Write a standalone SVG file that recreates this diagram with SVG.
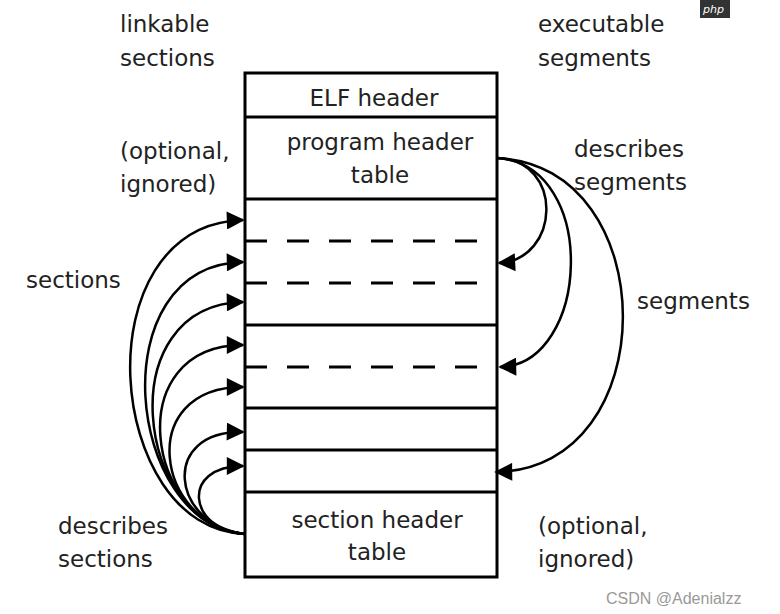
<svg xmlns="http://www.w3.org/2000/svg" width="780" height="614" viewBox="0 0 780 614">
<style>
text{font-family:"DejaVu Sans",sans-serif;font-size:23px;fill:#222}
.c{text-anchor:middle}
.b{fill:none;stroke:#000;stroke-width:3}
.a{fill:none;stroke:#000;stroke-width:2.5;marker-end:url(#ah)}
.d{stroke:#000;stroke-width:3;stroke-dasharray:22,20}
</style>
<defs><marker id="ah" viewBox="0 0 10 10" refX="9" refY="5" markerWidth="22" markerHeight="18" markerUnits="userSpaceOnUse" orient="auto"><path d="M0,0L10,5L0,10z"/></marker></defs>
<rect width="780" height="614" fill="#fff"/>
<g id="file">
<rect class="b" x="245" y="73" width="252" height="504"/>
<line class="b" x1="245" y1="117" x2="497" y2="117"/>
<line class="b" x1="245" y1="199" x2="497" y2="199"/>
<line class="b" x1="245" y1="325" x2="497" y2="325"/>
<line class="b" x1="245" y1="408" x2="497" y2="408"/>
<line class="b" x1="245" y1="450" x2="497" y2="450"/>
<line class="b" x1="245" y1="492" x2="497" y2="492"/>
<line class="d" x1="245" y1="241" x2="497" y2="241"/>
<line class="d" x1="245" y1="283" x2="497" y2="283"/>
<line class="d" x1="245" y1="367" x2="497" y2="367"/>
<text class="c" x="374" y="106">ELF header</text>
<text class="c" x="380" y="150">program header</text>
<text class="c" x="380" y="183">table</text>
<text class="c" x="377" y="528">section header</text>
<text class="c" x="377" y="560">table</text>
</g>
<g id="connectors">
<path class="a" d="M245,534 C105,530 80,225 243,220"/>
<path class="a" d="M245,534 C125,525 100,265 243,262"/>
<path class="a" d="M245,534 C135,525 110,305 243,302"/>
<path class="a" d="M245,534 C145,525 120,345 243,345"/>
<path class="a" d="M245,534 C155,525 135,387 243,387"/>
<path class="a" d="M245,534 C170,525 160,430 243,432"/>
<path class="a" d="M245,534 C188,530 180,466 243,466"/>
<path class="a" d="M497,158 C565,160 560,260 499,263"/>
<path class="a" d="M497,158 C600,165 590,365 500,367"/>
<path class="a" d="M497,158 C665,165 665,470 496,472"/>
</g>
<g id="labels">
<text x="120" y="32">linkable</text>
<text x="120" y="66">sections</text>
<text x="538" y="32">executable</text>
<text x="538" y="66">segments</text>
<text x="120" y="159">(optional,</text>
<text x="120" y="192">ignored)</text>
<text x="574" y="157">describes</text>
<text x="574" y="190">segments</text>
<text x="26" y="288">sections</text>
<text x="637" y="309">segments</text>
<text x="58" y="534">describes</text>
<text x="58" y="567">sections</text>
<text x="538" y="534">(optional,</text>
<text x="538" y="567">ignored)</text>
</g>
<g id="watermark">
<rect x="700" y="0" width="30" height="18" fill="#333"/>
<text x="703" y="13" style="font-size:11px;fill:#fff;font-style:italic">php</text>
<text x="606" y="604" style="font-size:16px;fill:#999;font-family:'Liberation Sans',sans-serif">CSDN @Adenialzz</text>
</g>
</svg>
